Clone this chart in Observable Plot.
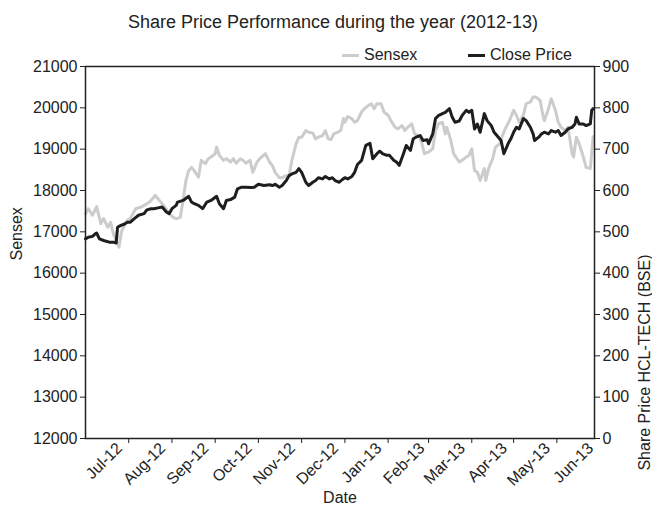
<!DOCTYPE html>
<html><head><meta charset="utf-8">
<script src="https://cdn.jsdelivr.net/npm/d3@7"></script>
<script src="https://cdn.jsdelivr.net/npm/@observablehq/plot@0.6"></script>
<style>
body{margin:0;background:#fff;font-family:"Liberation Sans",Arial,sans-serif;color:#222;}
#wrap{position:relative;width:652px;height:506px;overflow:hidden;}
#title{position:absolute;left:0;width:666px;top:11px;text-align:center;font-size:18px;line-height:22px;}
.leg{position:absolute;top:46px;font-size:16px;line-height:18px;display:flex;align-items:center;}
.sw{display:inline-block;width:17px;height:3px;margin-right:5px;}
#chart{position:absolute;left:0;top:0;}
</style></head>
<body>
<div id="wrap">
<div id="chart"></div>
<div id="title">Share Price Performance during the year (2012-13)</div>
<div class="leg" style="left:342px"><span class="sw" style="background:#cccccc"></span>Sensex</div>
<div class="leg" style="left:468px"><span class="sw" style="background:#1e1e1e"></span>Close Price</div>
</div>
<script>
// Days since 2012-07-01 and Sensex closing values
const sensexDay = [0,2,5,8,11,13,16,18,20,24,26,30,32,36,40,42,46,50,53,56,60,63,65,68,70,72,74,76,78,81,83,86,88,90,93,94,96,99,101,104,106,108,111,113,115,118,120,123,125,129,132,134,136,139,141,144,146,148,151,153,155,158,160,163,165,167,170,172,174,176,178,181,183,185,186,188,191,193,195,198,200,203,205,207,209,212,214,217,219,222,224,227,229,231,234,236,239,241,243,246,249,251,253,256,258,259,262,264,268,270,273,275,277,279,281,283,286,287,289,292,294,297,299,301,304,307,309,311,314,316,319,321,323,326,328,329,332,334,337,339,341,344,346,349,350,352,354,357,359,362,364];
const sensexValue = [17440,17560,17400,17610,17200,17320,17110,17230,16950,16630,17030,17280,17320,17560,17600,17640,17720,17880,17760,17640,17440,17350,17320,17350,17760,18240,18480,18560,18480,18320,18730,18650,18770,18810,18890,19050,18850,18730,18770,18690,18770,18660,18770,18730,18660,18730,18440,18690,18770,18890,18690,18600,18440,18310,18310,18360,18360,18730,19130,19290,19290,19450,19410,19390,19250,19290,19330,19450,19250,19230,19370,19410,19450,19740,19650,19790,19740,19650,19690,19900,19980,20060,20100,19980,20100,20100,19900,19820,19690,19530,19490,19570,19450,19530,19610,19370,19330,19170,18890,18930,19010,19450,19610,19650,19370,19530,19210,18890,18690,18730,18810,18850,19010,18480,18440,18240,18530,18240,18530,18770,19050,19130,19330,19490,19690,19940,19820,19650,19820,20100,20140,20260,20260,20180,19820,19690,19980,20220,19940,19650,19530,19450,19530,18890,18810,19290,19130,18810,18560,18530,19300];

// Days since 2012-07-01 and HCL-TECH close price (BSE)
const closeDay = [0,2,5,7,8,10,13,17,20,22,23,25,28,30,32,35,38,42,44,47,49,52,55,58,60,62,65,66,70,74,76,78,81,84,87,90,94,96,99,101,104,107,109,112,115,119,121,124,128,132,134,136,139,141,144,146,148,151,153,155,158,160,163,165,167,170,172,175,177,179,182,184,186,188,191,193,195,198,200,201,204,206,209,211,213,216,218,221,223,225,228,230,233,235,237,240,242,245,246,249,251,253,256,258,261,263,265,268,270,273,275,277,279,281,283,286,288,291,293,295,298,300,303,305,307,309,311,314,316,319,321,322,325,327,329,332,334,337,339,341,344,346,349,351,352,354,357,359,362,363,364];
const closeValue = [483,487,489,495,497,483,479,475,475,473,511,515,519,523,523,532,540,544,553,556,556,558,560,548,544,556,564,572,576,586,572,568,564,556,572,576,586,568,556,576,578,584,604,608,608,607,608,615,612,614,612,615,608,612,624,636,640,644,653,644,620,612,620,624,631,628,634,628,631,624,620,626,631,628,634,644,663,673,697,709,714,677,689,695,689,685,685,673,669,661,689,709,697,725,729,733,721,723,713,737,774,781,786,789,798,777,765,768,781,794,789,794,749,761,741,786,769,757,741,733,721,689,713,725,741,753,749,774,769,753,737,721,729,737,741,737,745,741,745,733,741,749,753,761,777,761,761,757,761,794,798];

// Axis ticks
const sensexTicks = [12000,13000,14000,15000,16000,17000,18000,19000,20000,21000];
const priceTicks = [0,100,200,300,400,500,600,700,800,900];
const tickDates = ["2012-08-01","2012-09-01","2012-10-02","2012-11-02","2012-12-03","2013-01-03","2013-02-03","2013-03-04","2013-04-04","2013-05-04","2013-06-04"];
const labelDates = ["2012-07-16","2012-08-16","2012-09-16","2012-10-17","2012-11-17","2012-12-18","2013-01-18","2013-02-18","2013-03-19","2013-04-18","2013-05-19","2013-06-19"];

const start = new Date(Date.UTC(2012, 6, 1));
const toDate = d => new Date(start.getTime() + d * 864e5);
const toLeft = p => 12000 + p * 10; // map price (0-900) onto Sensex scale (12000-21000)

const sensexData = sensexDay.map((d, i) => ({date: toDate(d), v: sensexValue[i]}));
const closeData = closeDay.map((d, i) => ({date: toDate(d), v: toLeft(closeValue[i])}));

const chart = Plot.plot({
  width: 652, height: 506,
  marginLeft: 85, marginRight: 58, marginTop: 66, marginBottom: 68,
  style: {fontFamily: "'Liberation Sans', Arial, sans-serif", fontSize: "16px", color: "#222", background: "white", overflow: "visible"},
  x: {type: "utc", domain: [start, toDate(365)]},
  y: {domain: [12000, 21000]},
  marks: [
    Plot.axisY({ticks: sensexTicks, tickSize: 5, tickPadding: 3, label: null, tickFormat: d => String(d)}),
    Plot.axisY({anchor: "right", ticks: priceTicks.map(toLeft), tickSize: 5, tickPadding: 3, label: null, tickFormat: v => String((v - 12000) / 10)}),
    Plot.axisX({ticks: tickDates.map(s => new Date(s)), tickSize: 5, tickFormat: () => "", label: null}),
    Plot.axisX({ticks: labelDates.map(s => new Date(s)), tickSize: 0, tickPadding: 4, tickRotate: -45, dx: 13, dy: 3, tickFormat: d3.utcFormat("%b-%y"), label: null}),
    Plot.line(sensexData, {x: "date", y: "v", stroke: "#cccccc", strokeWidth: 3}),
    Plot.line(closeData, {x: "date", y: "v", stroke: "#1e1e1e", strokeWidth: 3}),
    Plot.frame({stroke: "#222", strokeWidth: 1.5}),
    Plot.text(["Sensex"], {text: d => d, frameAnchor: "left", rotate: -90, dx: -69, dy: 8, fontSize: 16}),
    Plot.text(["Share Price HCL-TECH (BSE)"], {text: d => d, frameAnchor: "right", rotate: -90, dx: 50, dy: 2, fontSize: 16}),
    Plot.text(["Date"], {text: d => d, frameAnchor: "bottom", dy: 64, fontSize: 16})
  ]
});
document.getElementById("chart").appendChild(chart);
</script>
</body></html>
